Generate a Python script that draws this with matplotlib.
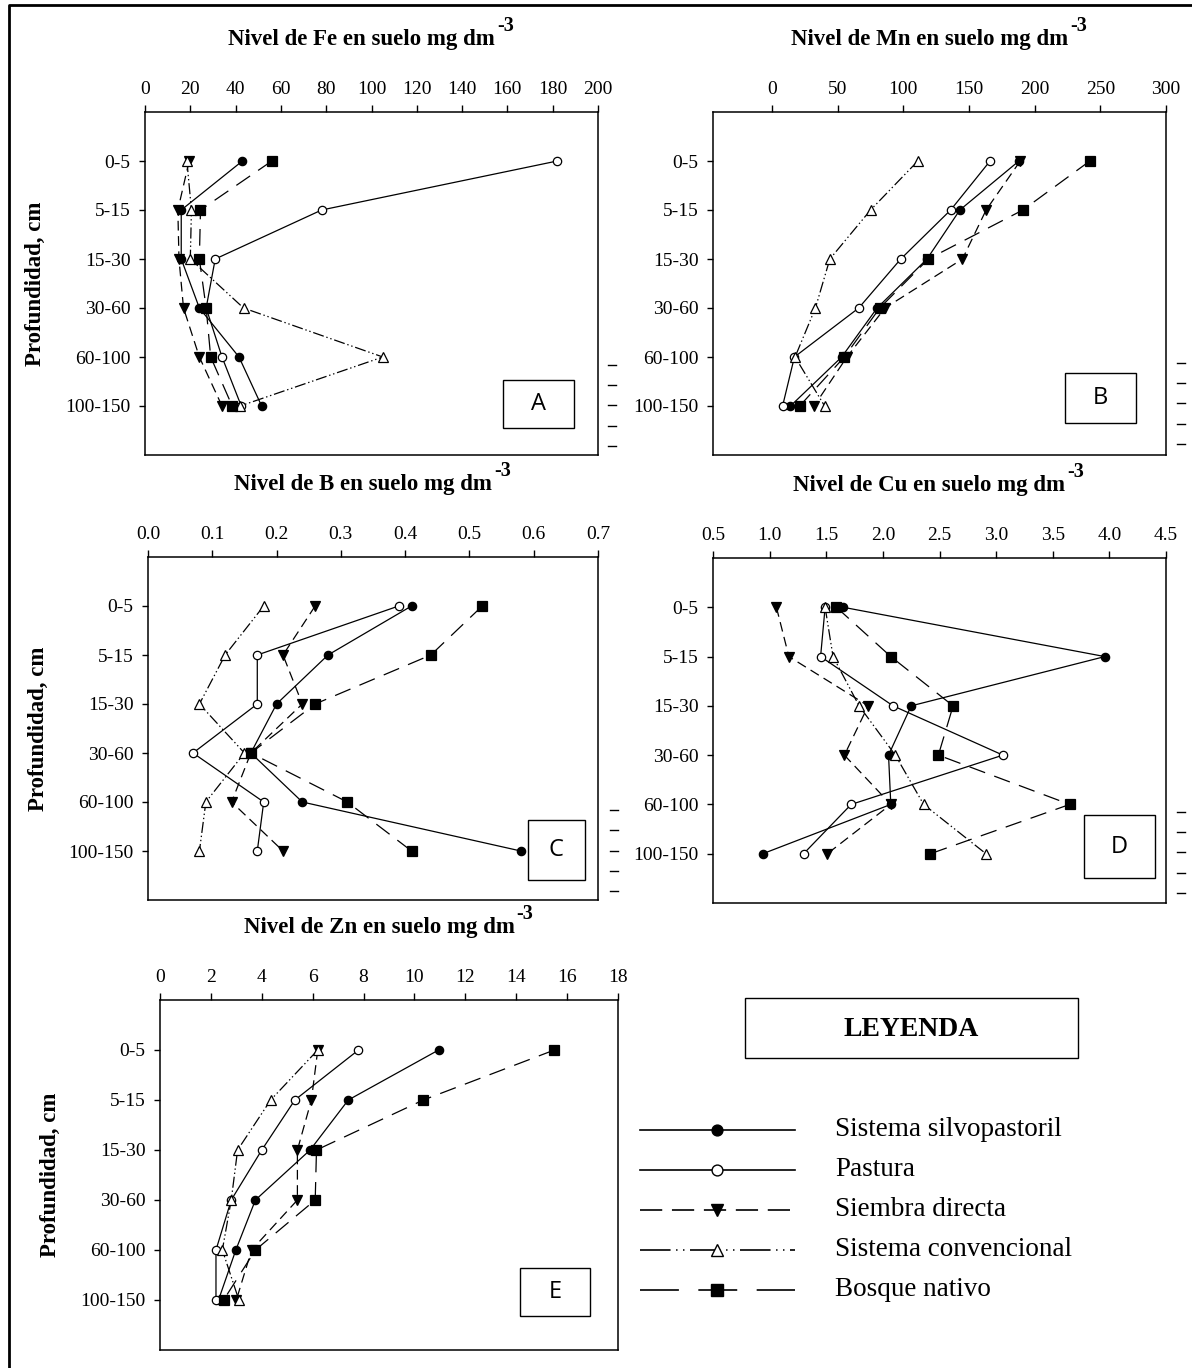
import matplotlib
matplotlib.use("Agg")
import matplotlib.pyplot as plt
from matplotlib.patches import Rectangle

plt.rcParams["font.family"] = ["Liberation Serif", "DejaVu Serif"]
plt.rcParams["lines.scale_dashes"] = False

depths = ["0-5", "5-15", "15-30", "30-60", "60-100", "100-150"]
series = ["Sistema silvopastoril", "Pastura", "Siembra directa",
          "Sistema convencional", "Bosque nativo"]

# Fe, mg dm-3
fe_silvo = [43, 16, 16, 24, 41.5, 51.5]
fe_pastura = [182, 78, 31, 27, 34, 42.5]
fe_siembra = [19.5, 14.5, 15, 17, 24, 34]
fe_conv = [18.5, 20.5, 20, 43.5, 105, 42]
fe_bosque = [56, 24.5, 24, 27, 29, 38.5]

# Mn
mn_silvo = [188, 143, 118, 80, 53, 14]
mn_pastura = [166, 136, 98, 66, 17, 8]
mn_siembra = [189, 163, 145, 86, 57, 32]
mn_conv = [111, 75, 44, 33, 17.5, 40]
mn_bosque = [242, 191, 119, 82, 55, 21]

# B
b_silvo = [0.41, 0.28, 0.20, 0.16, 0.24, 0.58]
b_pastura = [0.39, 0.17, 0.17, 0.07, 0.18, 0.17]
b_siembra = [0.26, 0.21, 0.24, 0.16, 0.13, 0.21]
b_conv = [0.18, 0.12, 0.08, 0.15, 0.09, 0.08]
b_bosque = [0.52, 0.44, 0.26, 0.16, 0.31, 0.41]

# Cu
cu_silvo = [1.65, 3.96, 2.25, 2.05, 2.07, 0.94]
cu_pastura = [1.49, 1.45, 2.09, 3.06, 1.72, 1.30]
cu_siembra = [1.06, 1.17, 1.87, 1.66, 2.07, 1.51]
cu_conv = [1.49, 1.56, 1.79, 2.11, 2.36, 2.91]
cu_bosque = [1.59, 2.07, 2.62, 2.49, 3.65, 2.42]

# Zn
zn_silvo = [10.95, 7.4, 5.9, 3.75, 2.98, 2.3]
zn_pastura = [7.8, 5.3, 4.0, 2.8, 2.2, 2.2]
zn_siembra = [6.2, 5.95, 5.4, 5.4, 3.6, 3.0]
zn_conv = [6.2, 4.35, 3.05, 2.8, 2.45, 3.1]
zn_bosque = [15.5, 10.35, 6.15, 6.1, 3.75, 2.5]

# marker, face colour, dash pattern in panels, size, dash pattern in legend
styles = [
    ("o", "black", (None, None), 6, (None, None)),
    ("o", "white", (None, None), 6, (None, None)),
    ("v", "black", (7, 4), 7, (16, 7)),
    ("^", "white", (8, 2, 1, 2, 1, 2), 7, (22, 4, 1, 4, 1, 4)),
    ("s", "black", (12, 7), 7, (28, 14)),
]

W, H = 1192, 1368
fig = plt.figure(figsize=(W / 100, H / 100), dpi=100)
renderer = fig.canvas.get_renderer()


def px_axes(left, top, right, bottom):
    return fig.add_axes([left / W, 1 - bottom / H, (right - left) / W, (bottom - top) / H])


def draw_line(ax, xs, ys, mk, fc, dash, ms, lw=0.9):
    line, = ax.plot(xs, ys, color="black", lw=lw, marker=mk, mfc=fc, mec="black",
                    ms=ms, mew=0.9)
    if dash[0] is not None:
        line.set_dashes(dash)
    return line


def panel(box, data, xlim, xticks, fmt, element, letter, lbox, ylab):
    ax = px_axes(*box)
    left, top, right, bottom = box
    ypos = list(range(1, 7))
    for vals, st in zip(data, styles):
        draw_line(ax, vals, ypos, st[0], st[1], st[2], st[3])
    ax.set_xlim(*xlim)
    ax.set_ylim(7, 0)
    ax.xaxis.tick_top()
    ax.set_xticks(xticks)
    ax.set_xticklabels([fmt.format(t) for t in xticks])
    ax.set_yticks(ypos)
    ax.set_yticklabels(depths)
    ax.tick_params(axis="x", direction="out", length=5, width=1, labelsize=14, pad=5)
    ax.tick_params(axis="y", direction="out", length=4.5, width=1, labelsize=14, pad=6)
    for s in ax.spines.values():
        s.set_linewidth(1.1)

    # title with raised "-3"
    cx = (left + right) / 2 - 10
    t = fig.text(cx / W, 1 - (top - 73) / H, "Nivel de " + element + " en suelo mg dm",
                 ha="center", va="center", fontsize=16.5, fontweight="bold")
    bb = t.get_window_extent(renderer)
    fig.text((bb.x1 + 2) / W, 1 - (top - 86) / H, "-3", ha="left", va="center",
             fontsize=14.5, fontweight="bold")

    if ylab:
        fig.text((left - 110) / W, 1 - ((top + bottom) / 2) / H, "Profundidad, cm",
                 rotation=90, ha="center", va="center", fontsize=16.5, fontweight="bold")
    x0, y0, bw, bh = lbox
    ax.add_patch(Rectangle((x0, y0), bw, bh, transform=ax.transAxes, fill=False,
                           lw=1.0, ec="black", clip_on=False))
    ax.text(x0 + bw / 2, y0 + bh / 2, letter, transform=ax.transAxes, ha="center",
            va="center", fontsize=17, family="Open Sans")
    return ax


panel((145, 112, 598, 455), [fe_silvo, fe_pastura, fe_siembra, fe_conv, fe_bosque],
      (0, 200), list(range(0, 201, 20)), "{:d}", "Fe", "A",
      (0.790, 0.079, 0.157, 0.14), True)
panel((713, 112, 1166, 455), [mn_silvo, mn_pastura, mn_siembra, mn_conv, mn_bosque],
      (-45, 300), list(range(0, 301, 50)), "{:d}", "Mn", "B",
      (0.777, 0.093, 0.157, 0.146), False)
panel((148, 557, 598, 900), [b_silvo, b_pastura, b_siembra, b_conv, b_bosque],
      (0, 0.7), [i / 10 for i in range(8)], "{:.1f}", "B", "C",
      (0.844, 0.058, 0.127, 0.175), True)
panel((713, 558, 1166, 903), [cu_silvo, cu_pastura, cu_siembra, cu_conv, cu_bosque],
      (0.5, 4.5), [0.5 + i / 2 for i in range(9)], "{:.1f}", "Cu", "D",
      (0.819, 0.072, 0.157, 0.183), False)
panel((160, 1000, 618, 1350), [zn_silvo, zn_pastura, zn_siembra, zn_conv, zn_bosque],
      (0, 18), list(range(0, 19, 2)), "{:d}", "Zn", "E",
      (0.786, 0.097, 0.153, 0.137), True)

# overlay in pixel coordinates: frame, legend, stray tick marks
ov = fig.add_axes([0, 0, 1, 1])
ov.set_xlim(0, W)
ov.set_ylim(H, 0)
ov.axis("off")
ov.patch.set_alpha(0)

ov.plot([9, 9, W], [H, 5, 5], color="black", lw=2)

for x0, ys in [(608, [365, 385, 405, 426, 446]), (1177, [363, 383, 403, 424, 444]),
               (610, [810, 830, 851, 871, 891]), (1177, [812, 832, 852, 873, 893])]:
    for y in ys:
        ov.plot([x0, x0 + 8], [y, y], color="black", lw=1)

ov.add_patch(Rectangle((745, 998), 333, 60, fill=False, ec="black", lw=1))
ov.text(911, 1029, "LEYENDA", ha="center", va="center", fontsize=20, fontweight="bold")

leg_y = [1130, 1170, 1210, 1250, 1290]
for name, st, y in zip(series, styles, leg_y):
    draw_line(ov, [640, 795], [y, y], None, "none", st[4], 0, lw=1.2)
    ov.plot([717], [y], marker=st[0], mfc=st[1], mec="black", ms=st[3] * 1.3,
            mew=1, color="black")
    ov.text(835, y, name, ha="left", va="center", fontsize=19.5)

fig.savefig("out.png", dpi=100)
